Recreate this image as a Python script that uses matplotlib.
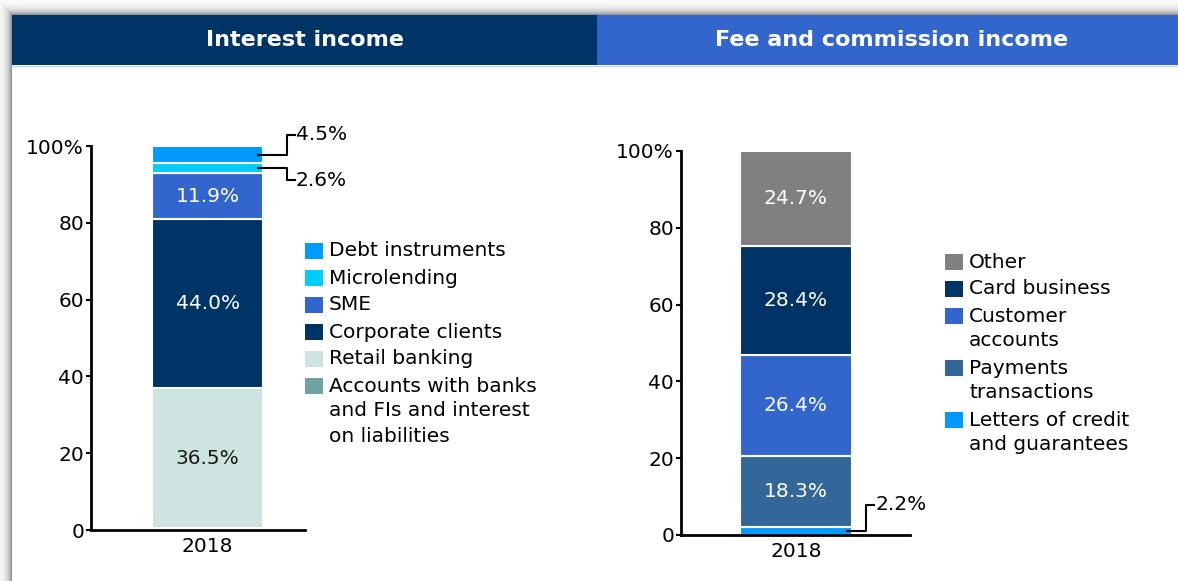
import matplotlib.pyplot as plt
import numpy as np
from matplotlib.lines import Line2D
from matplotlib.patches import Rectangle

W, H = 1178, 581
DPI = 100

# interest income, bottom to top of the stack
interest_categories = [
    "Accounts with banks\nand FIs and interest\non liabilities",
    "Retail banking",
    "Corporate clients",
    "SME",
    "Microlending",
    "Debt instruments",
]
interest_values = [0.5, 36.5, 44.0, 11.9, 2.6, 4.5]
interest_colors = ["#6fa3a3", "#cce3df", "#003366", "#3366cc", "#00ccff", "#0099ff"]

# fee and commission income, bottom to top of the stack
fee_categories = [
    "Letters of credit\nand guarantees",
    "Payments\ntransactions",
    "Customer\naccounts",
    "Card business",
    "Other",
]
fee_values = [2.2, 18.3, 26.4, 28.4, 24.7]
fee_colors = ["#0099ff", "#336699", "#3366cc", "#003366", "#808080"]

year = "2018"
yticks = [0, 20, 40, 60, 80, 100]
ytick_labels = ["0", "20", "40", "60", "80", "100%"]

FS = 14.5


def fx(x):
    return x / W


def fy(y):
    return 1 - y / H


fig = plt.figure(figsize=(W / DPI, H / DPI), dpi=DPI)

# drop shadow around the frame
bg = fig.add_axes([0, 0, 1, 1], zorder=-5)
yy, xx = np.mgrid[0:H, 0:W]
d = np.maximum(12 - xx, 15 - yy)
shade = np.where(d > 0, 1 - 0.42 * np.exp(-(d - 1) / 4.5), 1.0)
bg.imshow(shade, cmap="gray", vmin=0, vmax=1, extent=[0, 1, 0, 1], aspect="auto", interpolation="bilinear")
bg.set_axis_off()

# headers
fig.patches.append(Rectangle((fx(12), fy(65)), fx(597 - 12), 50 / H, transform=fig.transFigure,
                             facecolor="#003366", edgecolor="none", zorder=1))
fig.patches.append(Rectangle((fx(597), fy(65)), fx(W - 597), 50 / H, transform=fig.transFigure,
                             facecolor="#3366cc", edgecolor="none", zorder=1))
fig.add_artist(Line2D([fx(12), 1], [fy(65.5), fy(65.5)], transform=fig.transFigure, color="#c8d4e4", lw=1))
fig.text(fx(305), fy(40), "Interest income", color="white", fontsize=16, fontweight="bold",
         ha="center", va="center")
fig.text(fx(892), fy(40), "Fee and commission income", color="white", fontsize=16, fontweight="bold",
         ha="center", va="center")


def setup_axes(rect):
    ax = fig.add_axes(rect)
    ax.set_xlim(0, 1)
    ax.set_ylim(0, 100)
    for side in ("top", "right"):
        ax.spines[side].set_visible(False)
    for side in ("left", "bottom"):
        ax.spines[side].set_linewidth(2)
        ax.spines[side].set_color("black")
    ax.set_yticks(yticks)
    ax.set_yticklabels(ytick_labels)
    ax.tick_params(axis="y", length=3.5, width=1.5, labelsize=FS, pad=1.5)
    ax.tick_params(axis="x", length=0, labelsize=FS, pad=5)
    ax.patch.set_alpha(0)
    return ax


def stack(ax, x, width, values, colors):
    bottoms = np.concatenate([[0], np.cumsum(values)[:-1]])
    ax.bar([x] * len(values), values, width=width, bottom=bottoms, color=colors,
           edgecolor="white", linewidth=1.5)
    ax.set_xticks([x])
    ax.set_xticklabels([year])
    return bottoms


def callout(ax, x_start, ymid, dx1, dy, dx2, text):
    x0, y0 = ax.transData.transform((x_start, ymid))
    pts = np.array([[x0, y0], [x0 + dx1, y0], [x0 + dx1, y0 + dy], [x0 + dx1 + dx2, y0 + dy]])
    fpts = fig.transFigure.inverted().transform(pts)
    fig.add_artist(Line2D(fpts[:, 0], fpts[:, 1], transform=fig.transFigure, color="black", lw=1.5))
    fig.text(fpts[-1, 0] + 1 / W, fpts[-1, 1], text, fontsize=FS, ha="left", va="center")


def legend(x, y_first, cats, colors, row_gap=27, line_gap=25):
    y = y_first
    for cat, col in zip(cats, colors):
        fig.patches.append(Rectangle((fx(x), fy(y + 8)), 18 / W, 16 / H, transform=fig.transFigure,
                                     facecolor=col, edgecolor="none"))
        lines = cat.split("\n")
        for i, line in enumerate(lines):
            fig.text(fx(x + 24), fy(y + i * line_gap), line, fontsize=FS, ha="left", va="center")
        y += row_gap + (len(lines) - 1) * line_gap


# left chart
ax1 = setup_axes([fx(91), fy(530), fx(305 - 91), (530 - 146) / H])
bx1, bw1 = 0.545, 0.519
b1 = stack(ax1, bx1, bw1, interest_values, interest_colors)
for i in (1, 2, 3):
    col = "#1a1a1a" if i == 1 else "white"
    ax1.text(bx1, b1[i] + interest_values[i] / 2, f"{interest_values[i]:.1f}%", color=col,
             fontsize=FS, ha="center", va="center")
callout(ax1, bx1 + bw1 / 2 - 0.025, b1[5] + interest_values[5] / 2, 29, 20, 8, f"{interest_values[5]:.1f}%")
callout(ax1, bx1 + bw1 / 2 - 0.025, b1[4] + interest_values[4] / 2, 29, -12, 8, f"{interest_values[4]:.1f}%")
legend(305, 251, interest_categories[::-1], interest_colors[::-1])

# right chart
ax2 = setup_axes([fx(681), fy(535), fx(910 - 681), (535 - 151) / H])
bx2, bw2 = 0.502, 0.489
b2 = stack(ax2, bx2, bw2, fee_values, fee_colors)
for i in (1, 2, 3, 4):
    ax2.text(bx2, b2[i] + fee_values[i] / 2, f"{fee_values[i]:.1f}%", color="white",
             fontsize=FS, ha="center", va="center")
callout(ax2, bx2 + bw2 / 2 - 0.02, b2[0] + fee_values[0] / 2, 19, 26, 8, f"{fee_values[0]:.1f}%")
legend(945, 262, fee_categories[::-1], fee_colors[::-1])

fig.savefig("out.png", dpi=DPI)
